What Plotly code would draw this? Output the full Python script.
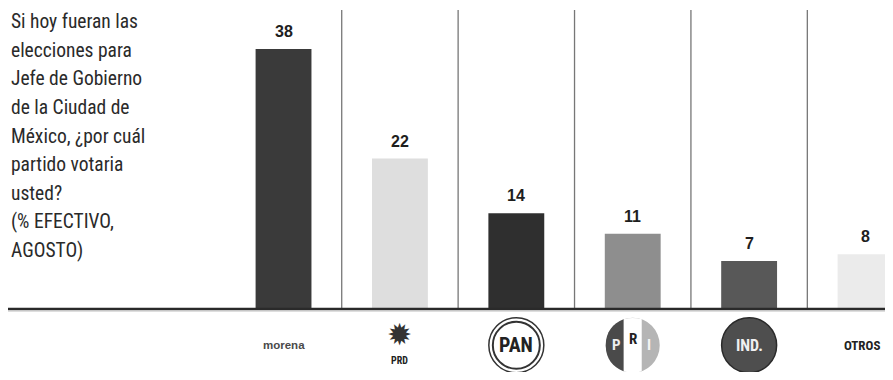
import plotly.graph_objects as go

# ---- data ----
partidos = ["morena", "PRD", "PAN", "PRI", "IND.", "OTROS"]
valores = [38, 22, 14, 11, 7, 8]
colores = ["#3a3a3a", "#dedede", "#2f2f2f", "#8e8e8e", "#585858", "#ebebeb"]
titulo = ["Si hoy fueran las", "elecciones para", "Jefe de Gobierno",
          "de la Ciudad de", "México, ¿por cuál", "partido votaria",
          "usted?", "(% EFECTIVO,", "AGOSTO)"]

NARROW = "Liberation Sans Narrow, Roboto Condensed, Roboto, sans-serif"
BOLD = "Liberation Sans, Arial, sans-serif"

W, H = 885, 364  # page body has an 8px margin inside the 893x380 window

fig = go.Figure()
fig.add_trace(go.Bar(
    x=list(range(len(partidos))), y=valores,
    marker=dict(color=colores, line=dict(width=0)),
    width=0.48, hoverinfo="skip", showlegend=False,
))

annotations = []
# value labels
for i, v in enumerate(valores):
    annotations.append(dict(x=i, y=v, xref="x", yref="y", text="<b>%d</b>" % v,
                            showarrow=False, yanchor="bottom", yshift=7,
                            font=dict(family=BOLD, size=16, color="#1e1e1e")))

# question text
for k, line in enumerate(titulo):
    annotations.append(dict(x=1 / W, y=1 - (14 + 28.5 * k) / H, xref="paper", yref="paper",
                            xanchor="left", yanchor="middle", text=line, showarrow=False,
                            font=dict(family=NARROW, size=19.5, color="#2a2a2a")))

shapes = []
# vertical separators
for i in range(len(partidos) - 1):
    shapes.append(dict(type="line", xref="x", yref="paper", x0=i + 0.5, x1=i + 0.5,
                       y0=1 - 301 / H, y1=1 - 2 / H,
                       line=dict(color="#777777", width=1.3)))
# baseline
shapes.append(dict(type="line", xref="paper", yref="y", x0=0, x1=1, y0=0, y1=0,
                   line=dict(color="#2a2a2a", width=2.5)))
shapes.append(dict(type="line", xref="paper", yref="y", x0=0, x1=1, y0=-0.3, y1=-0.3,
                   line=dict(color="#c4c4c4", width=1)))

ylab = -5.3  # label row centre (data units)

# morena
annotations.append(dict(x=0, y=ylab, xref="x", yref="y", text="<b>morena</b>", showarrow=False,
                        font=dict(family=BOLD, size=11.5, color="#4a4a4a")))
# PRD
annotations.append(dict(x=1, y=ylab, xref="x", yref="y", text="✹", showarrow=False, yshift=11,
                        font=dict(family="DejaVu Sans", size=30, color="#333333")))
annotations.append(dict(x=1, y=ylab, xref="x", yref="y", text="<b>PRD</b>", showarrow=False, yshift=-15,
                        font=dict(family=NARROW, size=10, color="#222222")))
# PAN
shapes.append(dict(type="circle", xref="x", yref="y", xsizemode="pixel", ysizemode="pixel",
                   xanchor=2, yanchor=ylab, x0=-27.5, x1=27.5, y0=-27.5, y1=27.5,
                   line=dict(color="#333333", width=1.5), fillcolor="white"))
shapes.append(dict(type="circle", xref="x", yref="y", xsizemode="pixel", ysizemode="pixel",
                   xanchor=2, yanchor=ylab, x0=-23.5, x1=23.5, y0=-23.5, y1=23.5,
                   line=dict(color="#333333", width=2), fillcolor="white"))
annotations.append(dict(x=2, y=ylab, xref="x", yref="y", text="<b>PAN</b>", showarrow=False,
                        font=dict(family=NARROW, size=20, color="#222222")))
# PRI
shapes.append(dict(type="circle", xref="x", yref="y", xsizemode="pixel", ysizemode="pixel",
                   xanchor=3, yanchor=ylab, x0=-27, x1=27, y0=-27.5, y1=27.5,
                   line=dict(width=0), fillcolor="#b5b5b5"))
shapes.append(dict(type="path", xref="x", yref="y", xsizemode="pixel", ysizemode="pixel",
                   xanchor=3, yanchor=ylab,
                   path="M -9,26 C -20,22 -27,13 -27,0 C -27,-13 -20,-22 -9,-26 Z",
                   line=dict(width=0), fillcolor="#4a4a4a"))
shapes.append(dict(type="path", xref="x", yref="y", xsizemode="pixel", ysizemode="pixel",
                   xanchor=3, yanchor=ylab,
                   path="M -9,26 Q 0,28.5 9,26 L 9,-26 Q 0,-28.5 -9,-26 Z",
                   line=dict(width=0), fillcolor="white"))
annotations.append(dict(x=3, y=ylab, xref="x", yref="y", text="<b>P</b>", showarrow=False, xshift=-16,
                        font=dict(family=NARROW, size=15, color="#eeeeee")))
annotations.append(dict(x=3, y=ylab, xref="x", yref="y", text="<b>R</b>", showarrow=False, yshift=6,
                        font=dict(family=NARROW, size=15, color="#222222")))
annotations.append(dict(x=3, y=ylab, xref="x", yref="y", text="<b>I</b>", showarrow=False, xshift=16,
                        font=dict(family=NARROW, size=15, color="#f4f4f4")))
# IND.
shapes.append(dict(type="circle", xref="x", yref="y", xsizemode="pixel", ysizemode="pixel",
                   xanchor=4, yanchor=ylab, x0=-27.5, x1=27.5, y0=-27.5, y1=27.5,
                   line=dict(color="#2a2a2a", width=1.5), fillcolor="#4e4e4e"))
annotations.append(dict(x=4, y=ylab, xref="x", yref="y", text="<b>IND.</b>", showarrow=False,
                        font=dict(family=NARROW, size=16, color="#f0f0f0")))
# OTROS
annotations.append(dict(x=0.988, y=ylab, xref="paper", yref="y", text="<b>OTROS</b>", showarrow=False,
                        xanchor="right",
                        font=dict(family=NARROW, size=13, color="#222222")))

fig.update_layout(
    width=W, height=H,
    margin=dict(l=0, r=0, t=0, b=0),
    paper_bgcolor="white", plot_bgcolor="white",
    xaxis=dict(range=[-2.367, 5.236], visible=False, fixedrange=True),
    yaxis=dict(range=[-9.21, 44.0], visible=False, fixedrange=True),
    shapes=shapes, annotations=annotations,
    bargap=0.52,
)

fig.write_html("out.html")
